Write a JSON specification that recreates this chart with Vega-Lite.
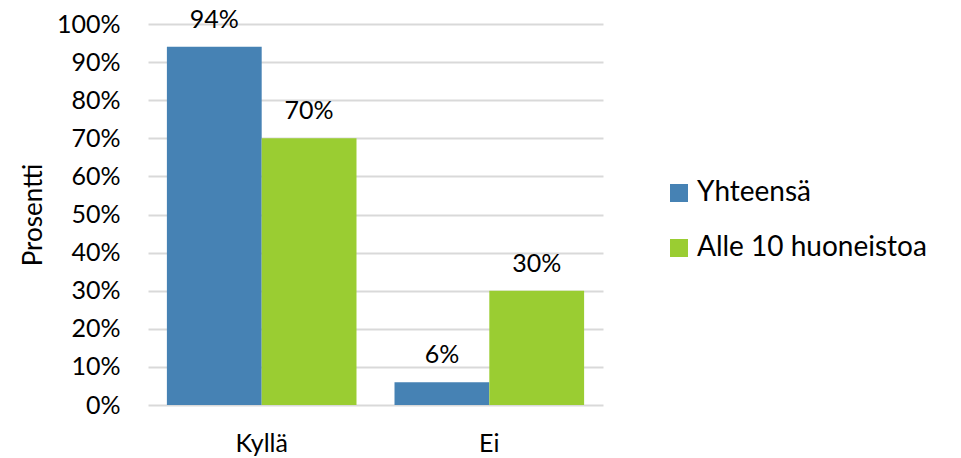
{
  "$schema": "https://vega.github.io/schema/vega-lite/v6.json",
  "width": 455,
  "height": 381,
  "autosize": {"type": "none"},
  "padding": {"left": 148, "top": 24, "right": 358, "bottom": 53},
  "background": "white",
  "config": {
    "font": "Lato",
    "view": {"stroke": null},
    "axis": {
      "labelFontSize": 25,
      "labelColor": "#000000",
      "titleFontSize": 26,
      "titleFontWeight": "normal",
      "titleColor": "#000000",
      "ticks": false,
      "tickSize": 0,
      "domain": false
    }
  },
  "data": {
    "values": [
      {"vastaus": "Kyllä", "ryhma": "Yhteensä", "osuus": 0.94},
      {"vastaus": "Kyllä", "ryhma": "Alle 10 huoneistoa", "osuus": 0.70},
      {"vastaus": "Ei", "ryhma": "Yhteensä", "osuus": 0.06},
      {"vastaus": "Ei", "ryhma": "Alle 10 huoneistoa", "osuus": 0.30}
    ]
  },
  "encoding": {
    "x": {
      "field": "vastaus",
      "type": "nominal",
      "sort": ["Kyllä", "Ei"],
      "scale": {"paddingInner": 0.167, "paddingOuter": 0.083},
      "axis": {"title": null, "labelAngle": 0, "labelPadding": 26, "grid": false}
    },
    "xOffset": {
      "field": "ryhma",
      "type": "nominal",
      "sort": ["Yhteensä", "Alle 10 huoneistoa"],
      "scale": {"paddingInner": 0, "paddingOuter": 0}
    },
    "y": {
      "field": "osuus",
      "type": "quantitative",
      "scale": {"domain": [0, 1], "nice": false},
      "axis": {
        "title": "Prosentti",
        "format": ".0%",
        "values": [0, 0.1, 0.2, 0.3, 0.4, 0.5, 0.6, 0.7, 0.8, 0.9, 1],
        "labelPadding": 28,
        "titlePadding": 10,
        "grid": true,
        "gridColor": "#D9D9D9",
        "gridWidth": 2
      }
    }
  },
  "layer": [
    {
      "mark": {"type": "bar"},
      "encoding": {
        "color": {
          "field": "ryhma",
          "type": "nominal",
          "scale": {"domain": ["Yhteensä", "Alle 10 huoneistoa"], "range": ["#4682B4", "#9ACD32"]},
          "legend": {
            "title": null,
            "orient": "none",
            "legendX": 517,
            "legendY": 155,
            "symbolType": "square",
            "symbolSize": 324,
            "symbolStrokeWidth": 0,
            "symbolOpacity": 1,
            "labelFontSize": 28,
            "labelColor": "#000000",
            "labelOffset": 4,
            "labelLimit": 0,
            "rowPadding": 27
          }
        }
      }
    },
    {
      "mark": {"type": "text", "dy": -19, "baseline": "alphabetic", "fontSize": 25, "color": "#000000"},
      "encoding": {
        "text": {"field": "osuus", "type": "quantitative", "format": ".0%"}
      }
    }
  ]
}
